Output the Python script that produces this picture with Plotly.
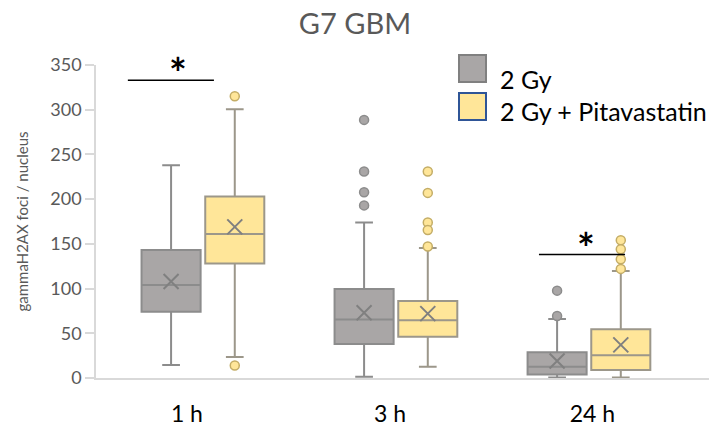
import plotly.graph_objects as go

# ---------------- data ----------------
categories = ["1 h", "3 h", "24 h"]
series_names = ["2 Gy", "2 Gy + Pitavastatin"]

gy_q1 = [74, 38, 4]
gy_median = [104, 65.5, 12.7]
gy_q3 = [143, 99.5, 28.7]
gy_low = [14.5, 1.5, 0.5]
gy_high = [238, 174, 66]
gy_mean = [108, 73, 19]
gy_outliers = [[], [288.6, 231, 207.7, 193], [97.7, 69.4]]

pit_q1 = [128, 46, 9]
pit_median = [161, 64.5, 25.4]
pit_q3 = [203, 86, 54.4]
pit_low = [23.5, 12.7, 0.5]
pit_high = [300.5, 145.4, 119.7]
pit_mean = [169, 72, 37]
pit_outliers = [[315, 14], [231, 207, 174, 165.5, 147], [154, 144, 132.7, 122]]

y_ticks = [0, 50, 100, 150, 200, 250, 300, 350]

# significance bars: category index, bar level, span relative to category
sig_cat = [0, 2]
sig_level = [333, 138]
sig_from = [-0.389, -0.259]
sig_to = [0.057, 0.187]
sig_star_dx = [-0.13, -0.016]

# ---------------- style ----------------
GRAY_FILL = "#a9a6a6"
GRAY_LINE = "#8c8c8c"
YEL_FILL = "#ffe699"
YEL_LINE = "#9c978a"
YEL_PT_LINE = "#c4ad66"
MEAN_COL = "#808080"
AXIS_COL = "#d9d9d9"
TEXT_GRAY = "#595959"
FONT = "Lato"

OFF = 0.165
BOXW = 0.306

W, H = 713, 428
ML, MR, MT, MB = 96, 4, 65, 50
XR = [-0.554, 2.622]
YR = [0, 350]

cat_pos = list(range(len(categories)))
gx = [p - OFF for p in cat_pos]
px_ = [p + OFF for p in cat_pos]

fig = go.Figure()

fig.add_trace(go.Box(
    name=series_names[0], x=gx, q1=gy_q1, median=gy_median, q3=gy_q3,
    lowerfence=gy_low, upperfence=gy_high, boxpoints=False,
    width=BOXW, whiskerwidth=0.3, fillcolor=GRAY_FILL,
    line=dict(color=GRAY_LINE, width=2), showlegend=False, hoverinfo="skip"))
fig.add_trace(go.Box(
    name=series_names[1], x=px_, q1=pit_q1, median=pit_median, q3=pit_q3,
    lowerfence=pit_low, upperfence=pit_high, boxpoints=False,
    width=BOXW, whiskerwidth=0.3, fillcolor=YEL_FILL,
    line=dict(color=YEL_LINE, width=2), showlegend=False, hoverinfo="skip"))

# means
fig.add_trace(go.Scatter(
    x=gx + px_, y=gy_mean + pit_mean, mode="markers", showlegend=False,
    marker=dict(symbol="x-thin", size=15, line=dict(color=MEAN_COL, width=2)),
    hoverinfo="skip"))

# outliers
ox, oy = [], []
for i, vals in enumerate(gy_outliers):
    ox += [gx[i]] * len(vals)
    oy += vals
fig.add_trace(go.Scatter(
    x=ox, y=oy, mode="markers", showlegend=False, cliponaxis=False,
    marker=dict(symbol="circle", size=9, color=GRAY_FILL,
                line=dict(color=GRAY_LINE, width=1.5)), hoverinfo="skip"))
ox, oy = [], []
for i, vals in enumerate(pit_outliers):
    ox += [px_[i]] * len(vals)
    oy += vals
fig.add_trace(go.Scatter(
    x=ox, y=oy, mode="markers", showlegend=False, cliponaxis=False,
    marker=dict(symbol="circle", size=9, color=YEL_FILL,
                line=dict(color=YEL_PT_LINE, width=1.5)), hoverinfo="skip"))

shapes = []
annotations = []
for c, lvl, a, b, dx in zip(sig_cat, sig_level, sig_from, sig_to, sig_star_dx):
    shapes.append(dict(type="line", xref="x", yref="y", x0=c + a, x1=c + b,
                       y0=lvl, y1=lvl, line=dict(color="black", width=1.5)))
    annotations.append(dict(xref="x", yref="y", x=c + dx, y=lvl, text="<b>*</b>",
                            showarrow=False, yanchor="bottom", yshift=-20,
                            font=dict(family=FONT, size=42, color="black")))

# legend drawn in pixel space -> paper coordinates
def pxx(v):
    return (v - ML) / (W - ML - MR)

def pxy(v):
    return (H - MB - v) / (H - MT - MB)

legend_items = [
    (series_names[0], GRAY_FILL, "#808080", 55, 79),
    (series_names[1], YEL_FILL, "#2f5597", 93, 111),
]
for name, fill, border, top, ty in legend_items:
    shapes.append(dict(type="rect", xref="paper", yref="paper",
                       x0=pxx(459), x1=pxx(486), y0=pxy(top + 27), y1=pxy(top),
                       fillcolor=fill, line=dict(color=border, width=2)))
    annotations.append(dict(xref="paper", yref="paper", x=pxx(498), y=pxy(ty),
                            text=name, showarrow=False, xanchor="left",
                            yanchor="middle",
                            font=dict(family=FONT, size=25, color="black")))

fig.update_layout(
    width=W, height=H,
    margin=dict(l=ML, r=MR, t=MT, b=MB, autoexpand=False),
    paper_bgcolor="white", plot_bgcolor="white",
    boxmode="overlay",
    title=dict(text="G7 GBM", x=355 / W, xanchor="center",
               yref="container", y=1 - 24 / H, yanchor="middle",
               font=dict(family=FONT, size=29, color=TEXT_GRAY)),
    shapes=shapes, annotations=annotations,
    xaxis=dict(range=XR, tickmode="array",
               tickvals=[-0.083, 0.969, 2.018], ticktext=categories,
               showgrid=False, zeroline=False, showline=True,
               linecolor=AXIS_COL, linewidth=2, ticks="",
               ticklabelstandoff=14,
               tickfont=dict(family=FONT, size=23, color="black")),
    yaxis=dict(range=YR, tickmode="array", tickvals=y_ticks,
               showgrid=False, zeroline=False, showline=True,
               linecolor=AXIS_COL, linewidth=1.5, ticks="outside",
               ticklen=9, tickcolor=AXIS_COL, tickwidth=1.5,
               tickfont=dict(family=FONT, size=18, color=TEXT_GRAY),
               title=dict(text="gammaH2AX foci / nucleus", standoff=18,
                          font=dict(family=FONT, size=15, color=TEXT_GRAY))),
)

fig.write_html("out.html")
